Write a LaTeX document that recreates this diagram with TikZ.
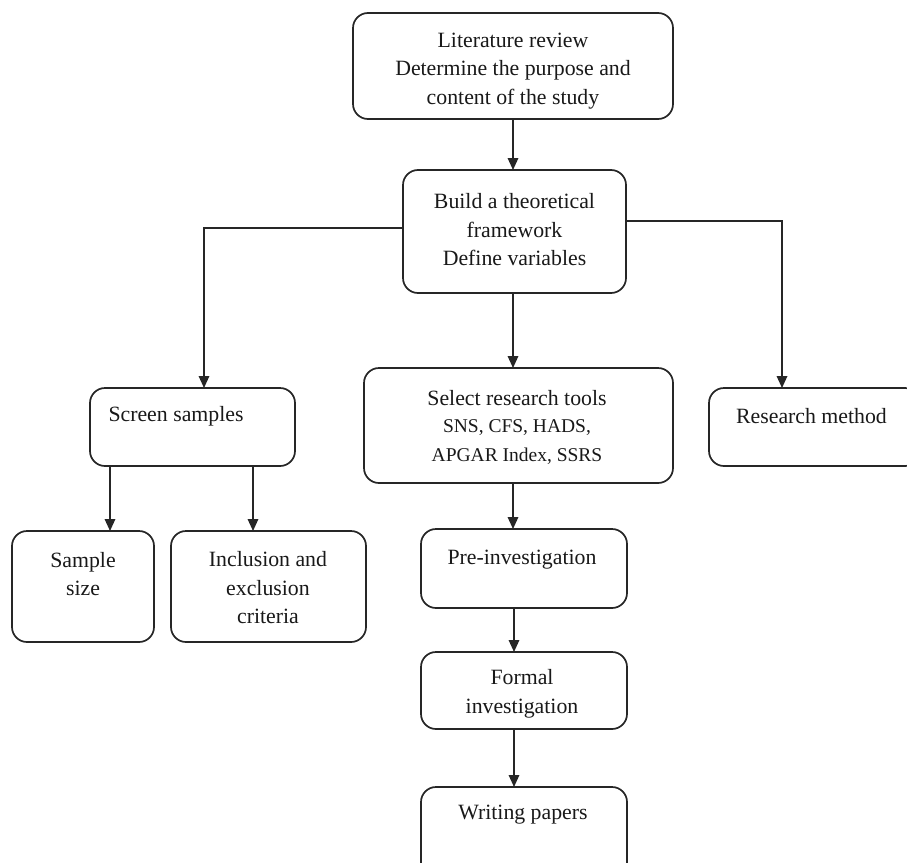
\documentclass[tikz,border=0pt]{standalone}
\usepackage{fontspec}
\setmainfont{Liberation Serif}
\usetikzlibrary{arrows.meta,calc}
\tikzset{
  box/.style={draw=black!85, line width=1.7pt, rounded corners=15pt, inner sep=0pt, outer sep=0pt},
  lbl/.style={inner sep=0pt, align=center, font=\fontsize{21.8}{28.5}\selectfont, text=black!90},
  arr/.style={draw=black!85, line width=1.7pt, -{Triangle[length=12pt,width=10.5pt]}},
  ln/.style={draw=black!85, line width=1.7pt}
}
\begin{document}
\begin{tikzpicture}[x=1pt,y=-1pt]
\useasboundingbox (0,0) rectangle (907,862);
\clip (0,0) rectangle (907,862);
\fill[white] (0,0) rectangle (907,862);
% boxes
\node[box, minimum width=320pt, minimum height=106pt] (lit) at (513,66) {};
\node[box, minimum width=223pt, minimum height=123pt] (build) at (514.5,231.5) {};
\node[box, minimum width=205pt, minimum height=78pt] (screen) at (192.5,427) {};
\node[box, minimum width=142pt, minimum height=111pt] (sample) at (83,586.5) {};
\node[box, minimum width=195pt, minimum height=111pt] (incl) at (268.5,586.5) {};
\node[box, minimum width=309pt, minimum height=115pt] (select) at (518.5,425.5) {};
\node[box, minimum width=211pt, minimum height=78pt] (method) at (814.5,427) {};
\node[box, minimum width=206pt, minimum height=79pt] (pre) at (524,568.5) {};
\node[box, minimum width=206pt, minimum height=77pt] (formal) at (524,690.5) {};
\node[box, minimum width=206pt, minimum height=93pt] (writing) at (524,833.5) {};
% texts
\node[lbl] (tlit) at (513,71) {Literature review\\Determine the purpose and\\content of the study};
\node[lbl] (tbuild) at (514.5,230) {Build a theoretical\\framework\\Define variables};
\node[lbl] (tscreen) at (176,416) {Screen samples};
\node[lbl] (tsample) at (83,574) {Sample\\size};
\node[lbl] (tincl) at (268,588) {Inclusion and\\exclusion\\criteria};
\node[lbl] (tselect) at (517,427) {Select research tools\\[-1pt]{\fontsize{19.5}{28.5}\selectfont SNS, CFS, HADS,}\\{\fontsize{19.5}{28.5}\selectfont APGAR Index, SSRS}};
\node[lbl] (tmethod) at (811.5,416) {Research method};
\node[lbl] (tpre) at (522,560) {Pre-investigation};
\node[lbl] (tformal) at (522,694) {Formal\\investigation};
\node[lbl] (twriting) at (523,815) {Writing papers};
% connectors
\draw[arr] (lit.south) -- (lit.south |- build.north);
\draw[arr] ([xshift=-1.5pt]build.south) -- ([xshift=-1.5pt]build.south |- select.north);
\draw[arr] ([yshift=3.5pt]build.west) -| ([xshift=11.5pt]screen.north);
\draw[arr] ([yshift=10.5pt]build.east) -| ([xshift=-32.5pt]method.north);
\draw[arr] ([xshift=-82.5pt]screen.south) -- ([xshift=-82.5pt]screen.south |- sample.north);
\draw[arr] ([xshift=60.5pt]screen.south) -- ([xshift=60.5pt]screen.south |- incl.north);
\draw[arr] ([xshift=-5.5pt]select.south) -- ([xshift=-5.5pt]select.south |- pre.north);
\draw[arr] ([xshift=-10pt]pre.south) -- ([xshift=-10pt]pre.south |- formal.north);
\draw[arr] ([xshift=-10pt]formal.south) -- ([xshift=-10pt]formal.south |- writing.north);
\end{tikzpicture}
\end{document}
